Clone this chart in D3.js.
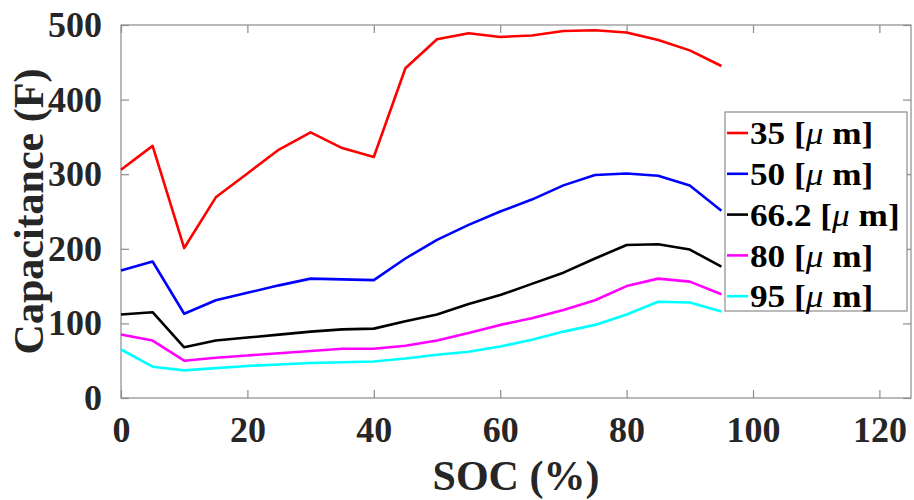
<!DOCTYPE html>
<html>
<head>
<meta charset="utf-8">
<script src="https://cdn.jsdelivr.net/npm/d3@7"></script>
<style>
  body { margin: 0; background: #fff; }
  svg text { font-family: 'Times New Roman', Times, 'Liberation Serif', Tinos, serif; font-weight: bold; fill: #262626; }
</style>
</head>
<body>
<div id="chart"></div>
<script>
// SOC sample points (%)
const soc = [0,5,10,15,20,25,30,35,40,45,50,55,60,65,70,75,80,85,90,95];

const seriesNames = ["35", "50", "66.2", "80", "95"];
const seriesColors = ["#ff0000", "#0000ff", "#000000", "#ff00ff", "#00ffff"];

// capacitance (F) per thickness
const cap35   = [306,338,201,269,301,333,356,335,323,442,481,489,484,486,492,493,490,480,466,445];
const cap50   = [171,183,113,131,141,151,160,159,158,187,212,232,250,266,285,299,301,298,285,251];
const cap66_2 = [112,115,68,77,81,85,89,92,93,103,112,126,138,153,168,187,205,206,199,176];
const cap80   = [85,77,50,54,57,60,63,66,66,70,77,87,98,107,118,131,150,160,156,139];
const cap95   = [65,42,37,40,43,45,47,48,49,53,58,62,69,78,89,98,112,129,128,116];

const allSeries = [cap35, cap50, cap66_2, cap80, cap95];

const xTicks = [0,20,40,60,80,100,120];
const yTicks = [0,100,200,300,400,500];

const width = 914, height = 500;
const mLeft = 121, mRight = 911, mTop = 25, mBottom = 398;

const svg = d3.select("#chart").append("svg")
  .attr("width", width).attr("height", height);

const x = d3.scaleLinear().domain([0,125]).range([mLeft,mRight]);
const y = d3.scaleLinear().domain([0,500]).range([mBottom,mTop]);

const axisColor = "#8c8c8c";
const tickLen = 8;

// box
svg.append("rect")
  .attr("x", mLeft).attr("y", mTop)
  .attr("width", mRight-mLeft).attr("height", mBottom-mTop)
  .attr("fill", "none").attr("stroke", axisColor).attr("stroke-width", 1.2);

// axes with inward ticks
const xAxisB = svg.append("g").attr("transform", `translate(0,${mBottom})`)
  .call(d3.axisBottom(x).tickValues(xTicks).tickSizeInner(-tickLen).tickSizeOuter(0).tickPadding(18));
const xAxisT = svg.append("g").attr("transform", `translate(0,${mTop})`)
  .call(d3.axisTop(x).tickValues(xTicks).tickSizeInner(-tickLen).tickSizeOuter(0).tickFormat(""));
const yAxisL = svg.append("g").attr("transform", `translate(${mLeft},0)`)
  .call(d3.axisLeft(y).tickValues(yTicks).tickSizeInner(-tickLen).tickSizeOuter(0).tickPadding(19));
const yAxisR = svg.append("g").attr("transform", `translate(${mRight},0)`)
  .call(d3.axisRight(y).tickValues(yTicks).tickSizeInner(-tickLen).tickSizeOuter(0).tickFormat(""));

[xAxisB, xAxisT, yAxisL, yAxisR].forEach(g => {
  g.select(".domain").remove();
  g.attr("font-family", null).attr("font-size", null);
  g.selectAll(".tick line").attr("stroke", axisColor).attr("stroke-width", 1.2);
  g.selectAll("text")
    .attr("font-size", 36)
    .attr("fill", "#262626");
});
xAxisB.selectAll("text").attr("dy", "0.71em");

// lines
const line = d3.line().x((d,i) => x(soc[i])).y(d => y(d));
svg.selectAll("path.series")
  .data(allSeries)
  .join("path")
    .attr("class", "series")
    .attr("d", line)
    .attr("fill", "none")
    .attr("stroke", (d,i) => seriesColors[i])
    .attr("stroke-width", 2.6)
    .attr("stroke-linejoin", "round");

// axis labels
svg.append("text")
  .attr("x", (mLeft+mRight)/2).attr("y", 490)
  .attr("text-anchor", "middle")
  .attr("font-size", 42)
  .text("SOC (%)");

svg.append("text")
  .attr("transform", `translate(43,${(mTop+mBottom)/2}) rotate(-90)`)
  .attr("text-anchor", "middle")
  .attr("font-size", 42)
  .text("Capacitance (F)");

// legend
const lg = svg.append("g");
lg.append("rect")
  .attr("x", 725).attr("y", 112).attr("width", 182).attr("height", 199)
  .attr("fill", "#fff").attr("stroke", axisColor).attr("stroke-width", 1.2);

const rows = lg.selectAll("g.row")
  .data(seriesNames)
  .join("g")
    .attr("class", "row")
    .attr("transform", (d,i) => `translate(0,${133 + i*40.8})`);

rows.append("line")
  .attr("x1", 727).attr("x2", 748)
  .attr("stroke", (d,i) => seriesColors[i])
  .attr("stroke-width", 2.6);

// text is a bit wider than tall in the original, so stretch it slightly
const lt = rows.append("text")
  .attr("transform", "translate(750,0) scale(1.1,1)")
  .attr("dy", "0.35em")
  .attr("font-size", 32)
  .style("fill", "#000");
lt.append("tspan").text(d => d + " [");
lt.append("tspan").attr("font-style", "italic").attr("font-weight", "normal").text("\u03bc");
lt.append("tspan").text(" m]");
</script>
</body>
</html>
